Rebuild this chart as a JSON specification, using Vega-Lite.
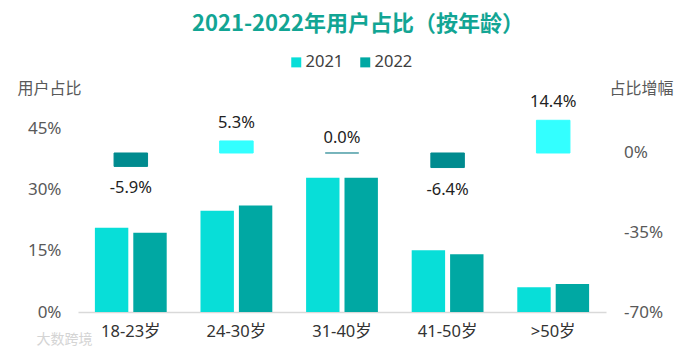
{
"$schema":"https://vega.github.io/schema/vega-lite/v6.json",
"width":528,"height":212,
"autosize":{"type":"none"},
"padding":{"left":78,"top":100,"right":86,"bottom":42},
"background":"white",
"title":{"text":"2021-2022年用户占比（按年龄）","font":"Noto Sans CJK SC","fontSize":22,"fontWeight":"bold","color":"#12A594","frame":"group","anchor":"middle","dx":16,"offset":18},
"config":{"font":"Noto Sans, Noto Sans CJK SC","view":{"stroke":null}},
"datasets":{
"share":[
{"age":"18-23岁","year":"2021","share":20.7},{"age":"18-23岁","year":"2022","share":19.5},
{"age":"24-30岁","year":"2021","share":24.9},{"age":"24-30岁","year":"2022","share":26.2},
{"age":"31-40岁","year":"2021","share":33.0},{"age":"31-40岁","year":"2022","share":33.0},
{"age":"41-50岁","year":"2021","share":15.2},{"age":"41-50岁","year":"2022","share":14.2},
{"age":">50岁","year":"2021","share":6.1},{"age":">50岁","year":"2022","share":6.9}],
"growth":[
{"age":"18-23岁","growth":-5.9,"label":"-5.9%","dir":"down"},
{"age":"24-30岁","growth":5.3,"label":"5.3%","dir":"up"},
{"age":"31-40岁","growth":0.0,"label":"0.0%","dir":"flat"},
{"age":"41-50岁","growth":-6.4,"label":"-6.4%","dir":"down"},
{"age":">50岁","growth":14.4,"label":"14.4%","dir":"up"}]
},
"encoding":{
"x":{"field":"age","type":"nominal","sort":["18-23岁","24-30岁","31-40岁","41-50岁",">50岁"],
"scale":{"paddingInner":0.32,"paddingOuter":0.16},
"axis":{"title":"大数跨境","titleColor":"#d4d4d4","titleFontSize":14,"titleFont":"Noto Sans CJK SC","titleFontWeight":"normal","titleX":-14,"titleY":20,"labelAngle":0,"labelFontSize":16.5,"labelColor":"#333333","labelPadding":11,"ticks":false,"domainColor":"#d9d9d9","domainWidth":1.5}}
},
"layer":[
{"data":{"name":"share"},
"mark":{"type":"bar"},
"encoding":{
"xOffset":{"field":"year","type":"nominal","scale":{"paddingInner":0.13,"paddingOuter":0}},
"y":{"field":"share","type":"quantitative","scale":{"domain":[0,52.13]},
"axis":{"title":"用户占比","titleColor":"#595959","titleFontSize":16,"titleFontWeight":"normal","titleFont":"Noto Sans CJK SC","titleAngle":0,"titleAlign":"left","titleBaseline":"middle","titleX":-61,"titleY":-12,"values":[0,15,30,45],"labelExpr":"datum.value+'%'","labelFontSize":17,"labelColor":"#595959","labelPadding":17,"ticks":false,"domain":false,"grid":false}},
"color":{"field":"year","type":"nominal","scale":{"domain":["2021","2022"],"range":["#08DED8","#00A8A3"]},
"legend":{"title":null,"orient":"none","legendX":210,"legendY":-46,"direction":"horizontal","symbolType":"square","symbolSize":100,"labelFontSize":16.5,"labelColor":"#404040","columnPadding":13,"labelOffset":1}}
}},
{"data":{"name":"growth"},
"mark":{"type":"bar","size":33.5,"strokeWidth":1},
"encoding":{
"y":{"field":"growth","type":"quantitative","scale":{"domain":[-70,23.33]},
"axis":{"orient":"right","title":"占比增幅","titleColor":"#595959","titleFontSize":16,"titleFontWeight":"normal","titleFont":"Noto Sans CJK SC","titleAngle":0,"titleAlign":"left","titleBaseline":"middle","titleX":3,"titleY":-12,"values":[-70,-35,0],"labelExpr":"datum.value+'%'","labelFontSize":17,"labelColor":"#595959","labelPadding":17.5,"labelAlign":"left","ticks":false,"domain":false,"grid":false}},
"color":{"field":"dir","type":"nominal","scale":{"domain":["up","down","flat"],"range":["#33FFFF","#008B8F","#008B8F"]},"legend":null},
"stroke":{"field":"dir","type":"nominal","scale":{"domain":["up","down","flat"],"range":["#33FFFF","#008B8F","#4A9CA5"]},"legend":null}
}},
{"data":{"name":"growth"},
"transform":[{"filter":"datum.growth>0"}],
"mark":{"type":"text","dy":-18,"fontSize":16.5,"color":"#222222"},
"encoding":{
"y":{"field":"growth","type":"quantitative","scale":{"domain":[-70,23.33]},"axis":null},
"text":{"field":"label"}
}},
{"data":{"name":"growth"},
"transform":[{"filter":"datum.growth==0"}],
"mark":{"type":"text","dy":-15,"fontSize":16.5,"color":"#222222"},
"encoding":{
"y":{"field":"growth","type":"quantitative","scale":{"domain":[-70,23.33]},"axis":null},
"text":{"field":"label"}
}},
{"data":{"name":"growth"},
"transform":[{"filter":"datum.growth<0"}],
"mark":{"type":"text","dy":22,"fontSize":16.5,"color":"#222222"},
"encoding":{
"y":{"field":"growth","type":"quantitative","scale":{"domain":[-70,23.33]},"axis":null},
"text":{"field":"label"}
}}
],
"resolve":{"scale":{"y":"independent","color":"independent","stroke":"independent"}}
}
